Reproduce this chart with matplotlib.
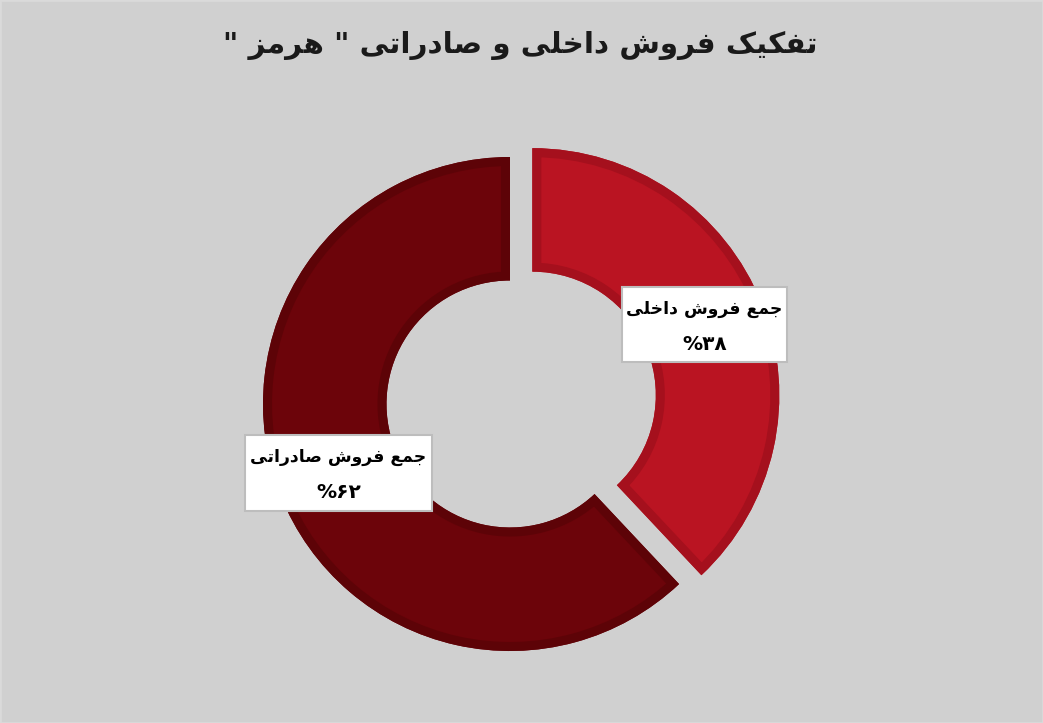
import matplotlib
matplotlib.use("Agg")
import matplotlib.pyplot as plt
from matplotlib.patches import Rectangle, Wedge

# ---- data ----
title_text = 'تفکیک فروش داخلی و صادراتی " هرمز "'
categories = ['جمع فروش داخلی', 'جمع فروش صادراتی']
values = [38, 62]
face_colors = ['#BA1422', '#6C040A']
edge_colors = ['#A5101D', '#5D0307']

# ---- minimal Persian shaping (matplotlib has no complex text layout) ----
FORMS = {
    'ا': ('\uFE8D', '\uFE8E', None, None),
    'ت': ('\uFE95', '\uFE96', '\uFE97', '\uFE98'),
    'ج': ('\uFE9D', '\uFE9E', '\uFE9F', '\uFEA0'),
    'خ': ('\uFEA5', '\uFEA6', '\uFEA7', '\uFEA8'),
    'د': ('\uFEA9', '\uFEAA', None, None),
    'ر': ('\uFEAD', '\uFEAE', None, None),
    'ز': ('\uFEAF', '\uFEB0', None, None),
    'ش': ('\uFEB5', '\uFEB6', '\uFEB7', '\uFEB8'),
    'ص': ('\uFEB9', '\uFEBA', '\uFEBB', '\uFEBC'),
    'ع': ('\uFEC9', '\uFECA', '\uFECB', '\uFECC'),
    'ف': ('\uFED1', '\uFED2', '\uFED3', '\uFED4'),
    'ل': ('\uFEDD', '\uFEDE', '\uFEDF', '\uFEE0'),
    'م': ('\uFEE1', '\uFEE2', '\uFEE3', '\uFEE4'),
    'ه': ('\uFEE9', '\uFEEA', '\uFEEB', '\uFEEC'),
    'و': ('\uFEED', '\uFEEE', None, None),
    'ک': ('\uFB8E', '\uFB8F', '\uFB90', '\uFB91'),
    'ی': ('\uFBFC', '\uFBFD', '\uFBFE', '\uFBFF'),
}


def shape(s):
    out = []
    for i, c in enumerate(s):
        if c not in FORMS:
            out.append(c)
            continue
        prev = s[i - 1] if i > 0 else None
        nxt = s[i + 1] if i + 1 < len(s) else None
        jp = prev in FORMS and FORMS[prev][2] is not None
        jn = nxt in FORMS and FORMS[c][2] is not None
        iso, fin, ini, med = FORMS[c]
        if jp and jn:
            out.append(med)
        elif jp:
            out.append(fin)
        elif jn:
            out.append(ini)
        else:
            out.append(iso)
    return ''.join(reversed(out))


PDIG = '۰۱۲۳۴۵۶۷۸۹'


def pdigits(n):
    return ''.join(PDIG[int(ch)] for ch in str(n))


# ---- figure ----
W, H = 1043, 723
BG = '#D0D0D0'
fig = plt.figure(figsize=(W / 100, H / 100), dpi=100, facecolor=BG)
ax = fig.add_axes([0, 0, 1, 1])
ax.set_facecolor(BG)

cx, cy, R = 510, H - 404, 247
explode = [24, 0]
wedges, _ = ax.pie(values, radius=R, center=(cx, cy), startangle=90,
                   counterclock=False, explode=explode,
                   colors=face_colors,
                   wedgeprops=dict(width=R * 0.5, linewidth=0),
                   frame=True)
ax.set_xlim(0, W)
ax.set_ylim(0, H)
ax.set_aspect('equal')
ax.axis('off')

# inner darker rim (stroke clipped to the wedge itself)
for w, ec in zip(wedges, edge_colors):
    rim = Wedge(w.center, w.r, w.theta1, w.theta2, width=w.width,
                facecolor='none', edgecolor=ec, linewidth=13)
    ax.add_patch(rim)
    rim.set_clip_path(w)

fam = ['DejaVu Sans']

# title
fig.text(520 / W, 1 - 45 / H, shape(title_text), ha='center', va='center',
         fontsize=21.2, fontweight='bold', family=fam, color='#1a1a1a')

# label boxes (pixel layout, top-left corner + size)
boxes = [(622, 287, 165, 75), (245, 435, 187, 76)]
for (bx, by, bw, bh), cat, v in zip(boxes, categories, values):
    ax.add_patch(Rectangle((bx, H - by - bh), bw, bh, facecolor='white',
                           edgecolor='#BDBDBD', linewidth=1.5, zorder=5))
    xc = bx + bw / 2
    ax.text(xc, H - (by + 22), shape(cat), ha='center', va='center',
            fontsize=12.4, fontweight='bold', family=fam, color='black', zorder=6)
    ax.text(xc, H - (by + 57), '%' + pdigits(v), ha='center', va='center',
            fontsize=14.5, fontweight='bold', family=fam, color='black', zorder=6)

# thin frame border
fig.patches.append(Rectangle((0, 0), 1, 1, transform=fig.transFigure,
                             fill=False, edgecolor='#DADADA', linewidth=2))

fig.savefig('out.png', dpi=100, facecolor=BG)
